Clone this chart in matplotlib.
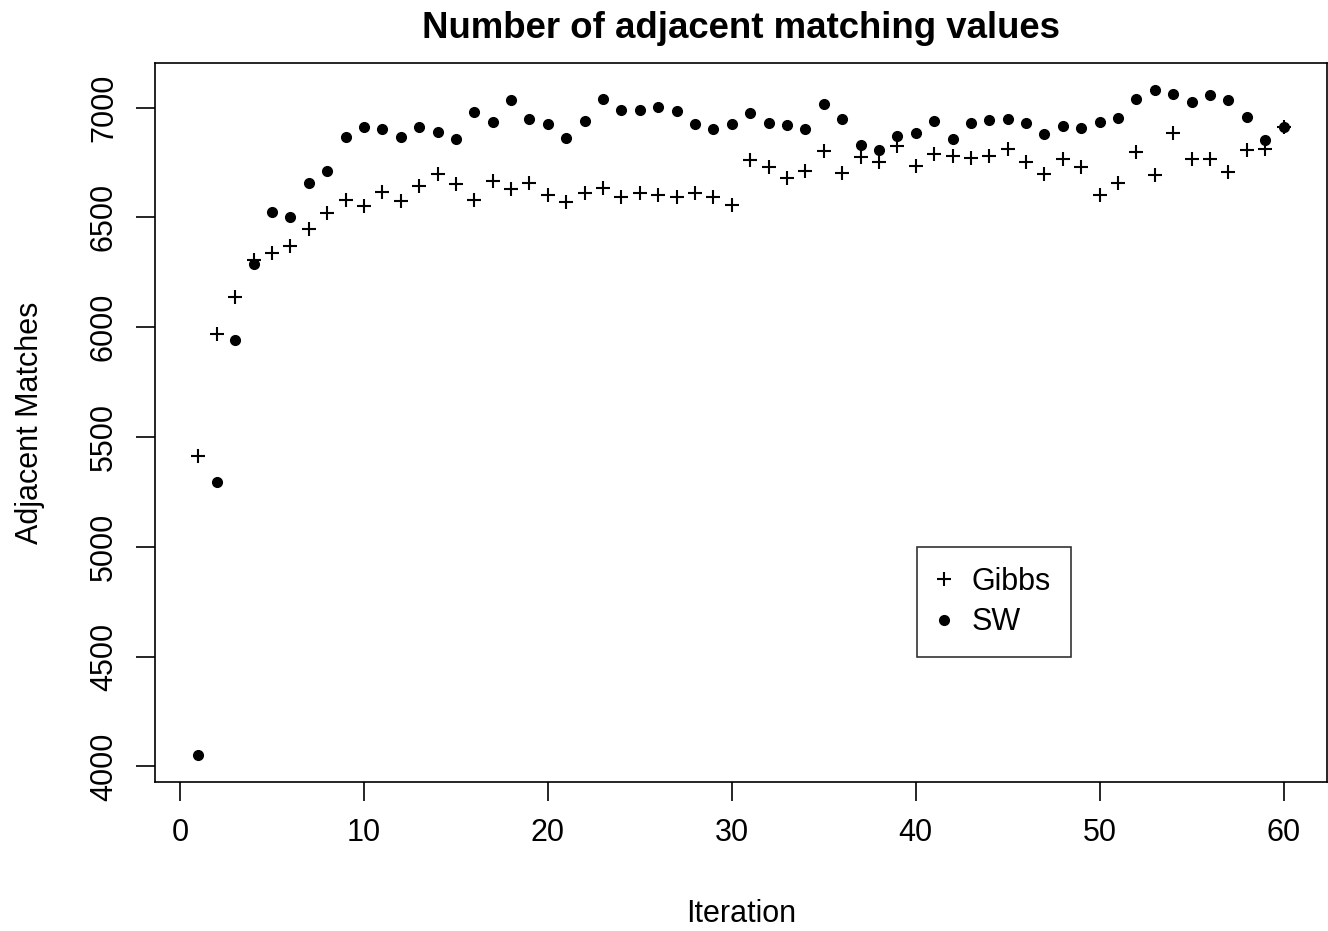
import matplotlib
matplotlib.use("Agg")
import matplotlib.pyplot as plt

plt.rcParams["font.family"] = ["Liberation Sans", "DejaVu Sans"]

# matches per sweep for the two samplers
iterations = list(range(1, 61))
gibbs = [5414, 5970, 6137, 6305, 6340, 6369, 6445, 6522, 6579, 6551,
         6614, 6574, 6644, 6697, 6653, 6579, 6665, 6630, 6656, 6603,
         6571, 6609, 6633, 6591, 6612, 6600, 6594, 6612, 6592, 6556,
         6761, 6731, 6679, 6712, 6804, 6703, 6776, 6752, 6826, 6735,
         6787, 6781, 6769, 6781, 6811, 6751, 6700, 6766, 6731, 6601,
         6655, 6799, 6693, 6886, 6766, 6766, 6705, 6807, 6810, 6911]
sw = [4050, 5293, 5940, 6289, 6525, 6500, 6659, 6712, 6865, 6913,
      6903, 6865, 6913, 6888, 6856, 6982, 6935, 7035, 6950, 6924,
      6860, 6939, 7041, 6988, 6988, 7002, 6984, 6924, 6904, 6926,
      6977, 6929, 6921, 6904, 7015, 6947, 6828, 6805, 6869, 6884,
      6938, 6858, 6930, 6944, 6950, 6929, 6879, 6918, 6909, 6935,
      6952, 7040, 7082, 7064, 7027, 7059, 7034, 6956, 6851, 6911]

FS = 22

fig = plt.figure(figsize=(13.28, 9.31), dpi=100)
ax = fig.add_axes([155 / 1328, 1 - 782 / 931, 1172 / 1328, 719 / 931])

ax.plot(iterations, gibbs, "+", color="black", markersize=10, markeredgewidth=1.5,
        label="Gibbs")
ax.plot(iterations, sw, "o", color="black", markersize=7, label="SW")

# R-style 4% padding around the data range
xr = max(iterations) - min(iterations)
allv = gibbs + sw
yr = max(allv) - min(allv)
ax.set_xlim(min(iterations) - 0.04 * xr, max(iterations) + 0.04 * xr)
ax.set_ylim(min(allv) - 0.04 * yr, max(allv) + 0.04 * yr)

ax.set_xticks(range(0, 61, 10))
ax.set_yticks(range(4000, 7001, 500))
ax.tick_params(direction="out", length=14, width=1.2, labelsize=FS, pad=12)
for lbl in ax.get_yticklabels():
    lbl.set_rotation(90)
    lbl.set_va("center")
for sp in ax.spines.values():
    sp.set_linewidth(1.2)

fig.text(741 / 1328, 1 - 28 / 931, "Number of adjacent matching values",
         ha="center", va="center", fontsize=26.4, fontweight="bold")
fig.text(741 / 1328, 1 - 914 / 931, "Iteration", ha="center", va="center",
         fontsize=FS)
fig.text(30 / 1328, 1 - 423 / 931, "Adjacent Matches", ha="center",
         va="center", rotation=90, fontsize=FS)

leg = ax.legend(loc="upper left", bbox_to_anchor=(0.650, 0.327), fontsize=FS,
                frameon=True, fancybox=False, borderpad=0.65, handletextpad=0.65,
                handlelength=0.5, labelspacing=0.35, borderaxespad=0)
leg.get_frame().set_edgecolor("black")
leg.get_frame().set_linewidth(1.2)

fig.savefig("out.png", dpi=100)
